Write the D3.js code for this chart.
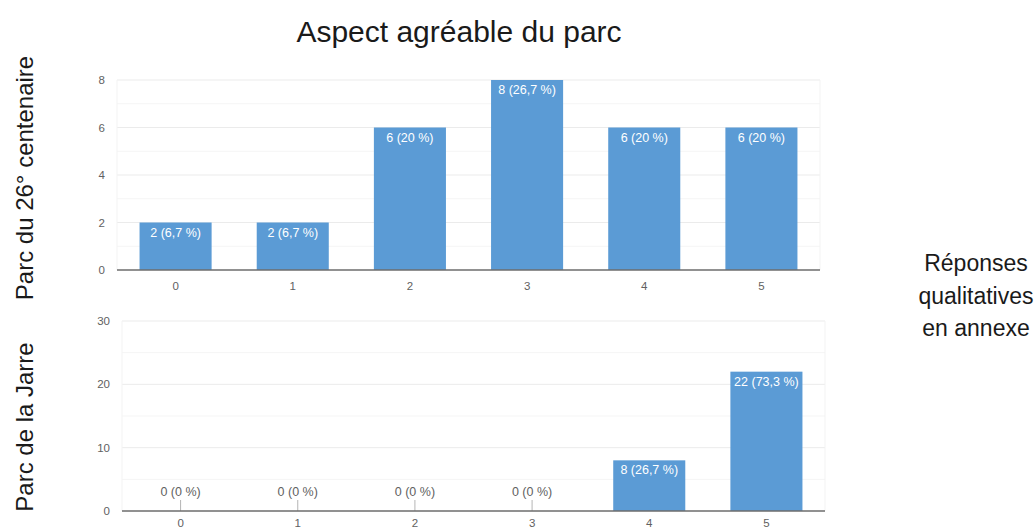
<!DOCTYPE html>
<html>
<head>
<meta charset="utf-8">
<script src="https://cdnjs.cloudflare.com/ajax/libs/d3/7.8.5/d3.min.js"></script>
<style>
  body { margin: 0; background: #fff; }
  svg { display: block; font-family: "Liberation Sans", Arial, sans-serif; }
  .tick_label { fill: #616161; font-size: 11.5px; }
  .bar_label { fill: #fff; font-size: 12.5px; }
  .zero_label { fill: #616161; font-size: 12.5px; }
  .side_label { fill: #1a1a1a; font-size: 24px; }
</style>
</head>
<body>
<div id="chart"></div>
<script>
var title = "Aspect agréable du parc",
	scores = ["0", "1", "2", "3", "4", "5"],
	centenaireCounts = [2, 2, 6, 8, 6, 6],
	jarreCounts = [0, 0, 0, 0, 8, 22],
	centenaireTicks = [0, 2, 4, 6, 8],
	jarreTicks = [0, 10, 20, 30],
	panelNames = ["Parc du 26° centenaire", "Parc de la Jarre"],
	noteLines = ["Réponses", "qualitatives", "en annexe"];

var width = 1036, height = 528;

var svg = d3.select("#chart").append("svg")
	.attr("width", width)
	.attr("height", height);

svg.append("text")
	.attr("x", 459)
	.attr("y", 42)
	.attr("text-anchor", "middle")
	.style("font-size", "30px")
	.style("fill", "#1a1a1a")
	.text(title);

// french style percentage: 6,7 %
function pctLabel(v, total) {
	var p = Math.round(v / total * 1000) / 10;
	return v + " (" + String(p).replace(".", ",") + " %)";
}

function drawPanel(counts, ticks, box) {
	var total = d3.sum(counts);
	var g = svg.append("g");

	var x = d3.scaleBand()
		.domain(scores)
		.range([box.left, box.right])
		.paddingInner(0.385)
		.paddingOuter(0.1925);

	var yMax = ticks[ticks.length - 1];
	var y = d3.scaleLinear()
		.domain([0, yMax])
		.range([box.bottom, box.top]);

	var step = ticks[1] - ticks[0];
	var minor = d3.range(step / 2, yMax, step);

	g.selectAll("line.minor").data(minor).enter().append("line")
		.attr("class", "minor")
		.attr("x1", box.left).attr("x2", box.right)
		.attr("y1", function(d) { return y(d); })
		.attr("y2", function(d) { return y(d); })
		.style("stroke", "#f5f5f5");

	g.selectAll("line.major").data(ticks.slice(1)).enter().append("line")
		.attr("class", "major")
		.attr("x1", box.left).attr("x2", box.right)
		.attr("y1", function(d) { return y(d); })
		.attr("y2", function(d) { return y(d); })
		.style("stroke", "#ebebeb");

	[box.left, box.right].forEach(function(xx) {
		g.append("line")
			.attr("x1", xx).attr("x2", xx)
			.attr("y1", y(yMax)).attr("y2", y(0))
			.style("stroke", "#f3f3f3");
	});

	g.selectAll("text.ylab").data(ticks).enter().append("text")
		.attr("class", "tick_label ylab")
		.attr("x", box.left - 12)
		.attr("y", function(d) { return y(d) + 4; })
		.attr("text-anchor", "end")
		.text(function(d) { return d; });

	g.selectAll("rect.bar").data(counts).enter().append("rect")
		.attr("class", "bar")
		.attr("x", function(d, i) { return x(scores[i]); })
		.attr("y", function(d) { return y(d); })
		.attr("width", x.bandwidth())
		.attr("height", function(d) { return y(0) - y(d); })
		.style("fill", "#5b9bd5");

	counts.forEach(function(d, i) {
		var cx = x(scores[i]) + x.bandwidth() / 2;
		if (d === 0) {
			// zero values get a small grey stub instead of a bar
			g.append("line")
				.attr("x1", cx).attr("x2", cx)
				.attr("y1", y(0) - 11).attr("y2", y(0))
				.style("stroke", "#b5b5b5");
			g.append("text")
				.attr("class", "zero_label")
				.attr("x", cx)
				.attr("y", y(0) - 15)
				.attr("text-anchor", "middle")
				.text(pctLabel(d, total));
		} else {
			g.append("text")
				.attr("class", "bar_label")
				.attr("x", cx)
				.attr("y", y(d) + 14)
				.attr("text-anchor", "middle")
				.text(pctLabel(d, total));
		}
	});

	g.append("line")
		.attr("x1", box.left).attr("x2", box.right)
		.attr("y1", y(0)).attr("y2", y(0))
		.style("stroke", "#6d6d6d")
		.style("stroke-width", 1.5);

	g.selectAll("text.xlab").data(scores).enter().append("text")
		.attr("class", "tick_label xlab")
		.attr("x", function(d) { return x(d) + x.bandwidth() / 2; })
		.attr("y", y(0) + box.labelGap)
		.attr("text-anchor", "middle")
		.text(function(d) { return d; });
}

drawPanel(centenaireCounts, centenaireTicks, { left: 117, right: 820, top: 80, bottom: 270, labelGap: 20 });
drawPanel(jarreCounts, jarreTicks, { left: 122, right: 825, top: 321, bottom: 511, labelGap: 16 });

var sideY = [178, 427];
svg.selectAll("text.side").data(panelNames).enter().append("text")
	.attr("class", "side_label side")
	.attr("text-anchor", "middle")
	.attr("transform", function(d, i) { return "translate(33," + sideY[i] + ") rotate(-90)"; })
	.text(function(d) { return d; });

svg.selectAll("text.note").data(noteLines).enter().append("text")
	.attr("class", "note")
	.attr("x", 976)
	.attr("y", function(d, i) { return 271 + i * 32.5; })
	.attr("text-anchor", "middle")
	.style("font-size", "23px")
	.style("fill", "#1a1a1a")
	.text(function(d) { return d; });
</script>
</body>
</html>
